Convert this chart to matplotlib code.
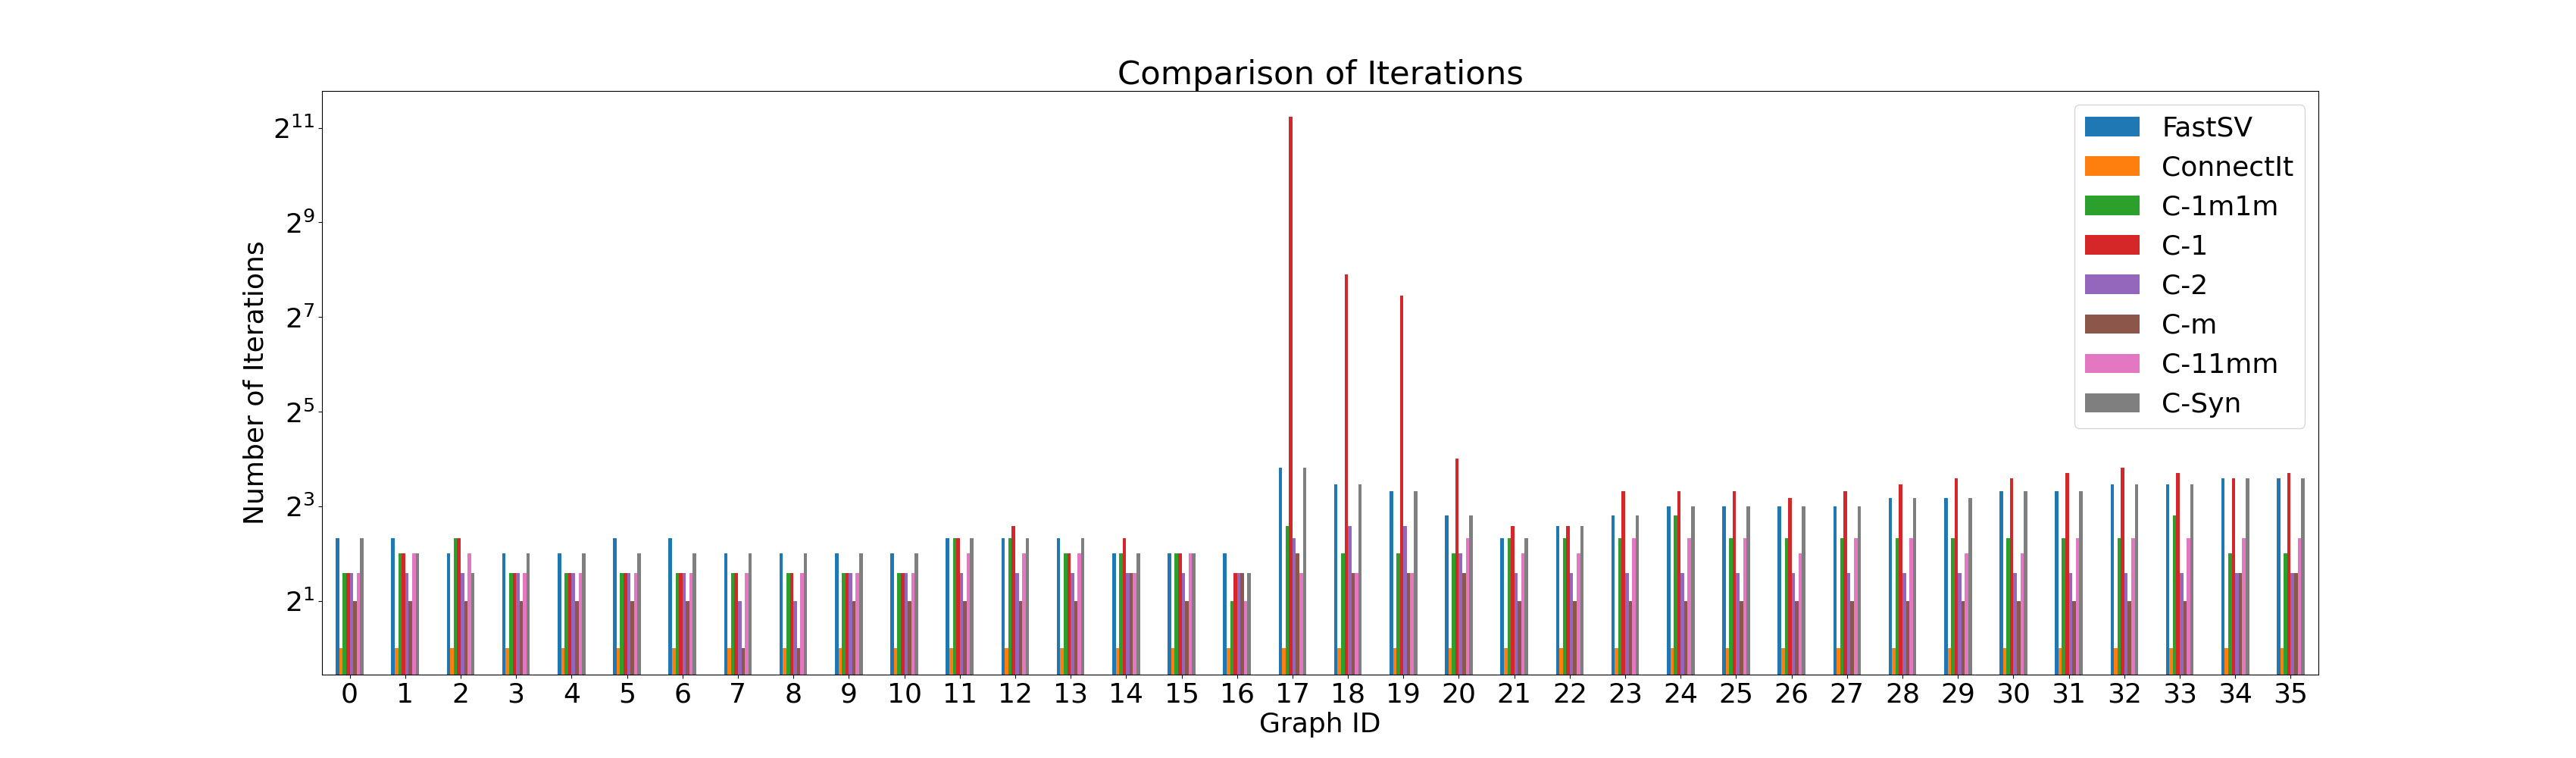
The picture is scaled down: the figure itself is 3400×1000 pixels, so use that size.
import numpy as np
import pandas as pd
import matplotlib as mpl
mpl.use('Agg')
import matplotlib.pyplot as plt
from matplotlib.ticker import LogFormatterMathtext, NullLocator

## iteration counts per graph
graph_ids = list(range(36))

fastsv   = [5, 5, 4, 4, 4, 5, 5, 4, 4, 4, 4, 5, 5, 5, 4, 4, 4, 14,
            11, 10, 7, 5, 6, 7, 8, 8, 8, 8, 9, 9, 10, 10, 11, 11, 12, 12]
connectit = [1, 1, 1, 1, 1, 1, 1, 1, 1, 1, 1, 1, 1, 1, 1, 1, 1, 1,
             1, 1, 1, 1, 1, 1, 1, 1, 1, 1, 1, 1, 1, 1, 1, 1, 1, 1]
c_1m1m   = [3, 4, 5, 3, 3, 3, 3, 3, 3, 3, 3, 5, 5, 4, 4, 4, 2, 6,
            4, 4, 4, 5, 5, 5, 7, 5, 5, 5, 5, 5, 5, 5, 5, 7, 4, 4]
c_1      = [3, 4, 5, 3, 3, 3, 3, 3, 3, 3, 3, 5, 6, 4, 5, 4, 3, 2400,
            240, 175, 16, 6, 6, 10, 10, 10, 9, 10, 11, 12, 12, 13, 14, 13, 12, 13]
c_2      = [3, 3, 3, 3, 3, 3, 3, 2, 2, 3, 3, 3, 3, 3, 3, 3, 3, 5,
            6, 6, 4, 3, 3, 3, 3, 3, 3, 3, 3, 3, 3, 3, 3, 3, 3, 3]
c_m      = [2, 2, 2, 2, 2, 2, 2, 1, 1, 2, 2, 2, 2, 2, 3, 2, 3, 4,
            3, 3, 3, 2, 2, 2, 2, 2, 2, 2, 2, 2, 2, 2, 2, 2, 3, 3]
c_11mm   = [3, 4, 4, 3, 3, 3, 3, 3, 3, 3, 3, 4, 4, 4, 3, 4, 2, 3,
            3, 3, 5, 4, 4, 5, 5, 5, 4, 5, 5, 4, 4, 5, 5, 5, 5, 5]
c_syn    = [5, 4, 3, 4, 4, 4, 4, 4, 4, 4, 4, 5, 5, 5, 4, 4, 3, 14,
            11, 10, 7, 5, 6, 7, 8, 8, 8, 8, 9, 9, 10, 10, 11, 11, 12, 12]

df = pd.DataFrame({'FastSV': fastsv,
                   'ConnectIt': connectit,
                   'C-1m1m': c_1m1m,
                   'C-1': c_1,
                   'C-2': c_2,
                   'C-m': c_m,
                   'C-11mm': c_11mm,
                   'C-Syn': c_syn}, index=graph_ids)

plt.rcParams['font.size'] = 26

fig, ax = plt.subplots(figsize=(34, 10), dpi=100)
df.plot(kind='bar', ax=ax, rot=0, width=0.5)

ax.set_yscale('log', base=2)
ax.set_ylim(2 ** -0.56, 2 ** 11.78)
ax.set_yticks([2 ** k for k in range(1, 12, 2)])
ax.yaxis.set_major_formatter(LogFormatterMathtext(base=2))
ax.yaxis.set_minor_locator(NullLocator())

ax.set_xlabel('Graph ID')
ax.set_ylabel('Number of Iterations')
ax.set_title('Comparison of Iterations')
ax.legend(loc='upper right')

plt.savefig('out.png')
